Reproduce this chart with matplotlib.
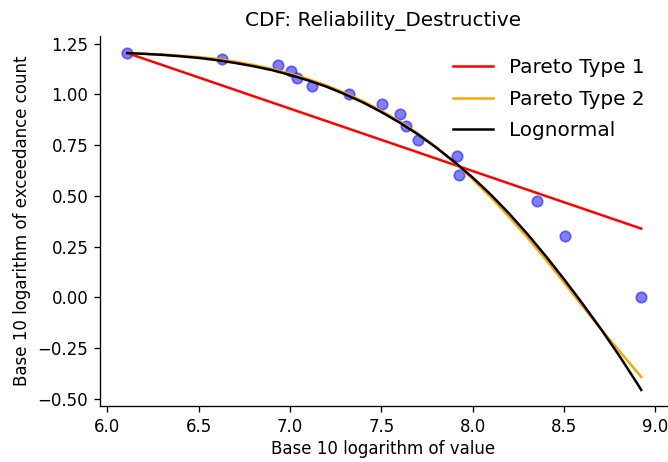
import matplotlib
matplotlib.use("Agg")
import matplotlib.pyplot as plt

# Empirical points (log10 value, log10 exceedance count)
obs_x = [6.108, 6.627, 6.931, 7.004, 7.037, 7.120, 7.324, 7.501, 7.601,
         7.634, 7.701, 7.916, 7.925, 8.351, 8.507, 8.922]
obs_y = [1.204, 1.176, 1.146, 1.114, 1.079, 1.041, 1.000, 0.954, 0.903,
         0.845, 0.778, 0.699, 0.602, 0.477, 0.301, 0.000]

# Pareto Type 1 fit (straight line)
p1_x = [6.108, 8.922]
p1_y = [1.204, 0.339]

# x positions at which the fitted curves were read
fit_x = [6.108, 6.2, 6.3, 6.4, 6.5, 6.6, 6.7, 6.8, 6.9, 7.0,
         7.1, 7.2, 7.3, 7.4, 7.5, 7.6, 7.7, 7.8, 7.9, 8.0,
         8.1, 8.2, 8.3, 8.4, 8.5, 8.6, 8.7, 8.8, 8.9, 8.922]

# Pareto Type 2 fit
p2_y = [1.204, 1.201, 1.197, 1.191, 1.184, 1.175, 1.161, 1.145, 1.126, 1.102,
        1.075, 1.044, 1.007, 0.966, 0.919, 0.867, 0.807, 0.740, 0.665, 0.582,
        0.492, 0.396, 0.294, 0.186, 0.073, -0.043, -0.155, -0.262, -0.368, -0.392]

# Lognormal fit
ln_y = [1.204, 1.200, 1.195, 1.188, 1.180, 1.169, 1.155, 1.139, 1.120, 1.096,
        1.069, 1.038, 1.001, 0.960, 0.913, 0.861, 0.803, 0.738, 0.667, 0.590,
        0.505, 0.412, 0.311, 0.203, 0.089, -0.030, -0.154, -0.285, -0.424, -0.456]

DPI = 120
fig = plt.figure(figsize=(668/DPI, 462/DPI), dpi=DPI)
ax = fig.add_axes([100/668, 1-406/462, 567/668, 370/462])

ax.scatter(obs_x, obs_y, s=40, color="blue", alpha=0.5, zorder=1)
ax.plot(p1_x, p1_y, color="red", lw=1.5, label="Pareto Type 1", zorder=2)
ax.plot(fit_x, p2_y, color="orange", lw=1.5, label="Pareto Type 2", zorder=2)
ax.plot(fit_x, ln_y, color="black", lw=1.5, label="Lognormal", zorder=3)

ax.set_xticks([6.0, 6.5, 7.0, 7.5, 8.0, 8.5, 9.0])
ax.set_yticks([-0.5, -0.25, 0.0, 0.25, 0.5, 0.75, 1.0, 1.25])
ax.set_xlim(5.959, 9.063)
ax.set_ylim(-0.535, 1.288)

ax.spines["top"].set_visible(False)
ax.spines["right"].set_visible(False)

ax.set_title("CDF: Reliability_Destructive", fontsize=12)
ax.set_xlabel("Base 10 logarithm of value", fontsize=10, labelpad=2.5)
ax.set_ylabel("Base 10 logarithm of exceedance count", fontsize=10)
ax.legend(loc="upper right", frameon=False, fontsize=12,
          labelspacing=0.63, borderaxespad=0.7)

fig.savefig("out.png", dpi=DPI)
